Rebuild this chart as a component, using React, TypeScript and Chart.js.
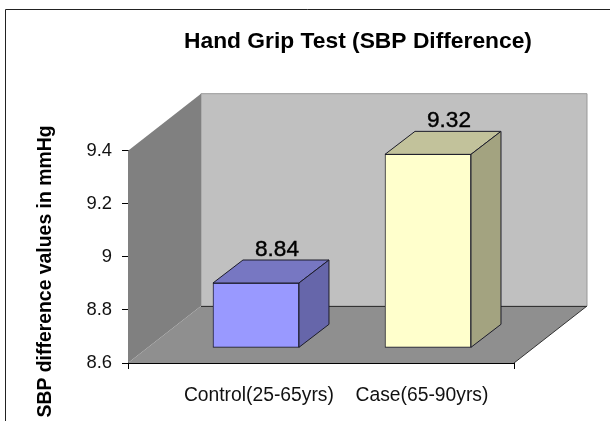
import React, { useEffect, useRef } from "react";
import { Chart, registerables } from "chart.js";

Chart.register(...registerables);

const categories = ["Control(25-65yrs)", "Case(65-90yrs)"];
const barPositions = [0, 1];
const labelPositions = [0.017, 0.965];
const sbpDifference = [8.84, 9.32];
const yTicks = [8.6, 8.8, 9, 9.2, 9.4];
const chartTitle = "Hand Grip Test (SBP Difference)";
const yTitle = "SBP difference values in mmHg";

const FONT = "'Liberation Sans', Arial, sans-serif";
const frontColors = ["#9999FF", "#FFFFCC"];
const topColors = ["#7777C2", "#C2C29B"];
const sideColors = ["#6666AA", "#A3A380"];
const WALL_DX = 73;
const WALL_DY = 57;
const BAR_DX = 30;
const BAR_DY = 23;

function poly(ctx: CanvasRenderingContext2D, pts: number[][], fill: string, stroke?: string) {
  ctx.beginPath();
  pts.forEach((p, i) => (i ? ctx.lineTo(p[0], p[1]) : ctx.moveTo(p[0], p[1])));
  ctx.closePath();
  ctx.fillStyle = fill;
  ctx.fill();
  if (stroke) {
    ctx.strokeStyle = stroke;
    ctx.lineWidth = 1;
    ctx.stroke();
  }
}

const scene3d = {
  id: "scene3d",
  beforeDatasetsDraw(chart: any) {
    const { ctx, chartArea: a } = chart;
    ctx.save();
    // frame of the picture
    ctx.strokeStyle = "#222";
    ctx.lineWidth = 1;
    ctx.beginPath();
    ctx.moveTo(5.5, 421);
    ctx.lineTo(5.5, 9.5);
    ctx.lineTo(610, 9.5);
    ctx.stroke();
    // walls and floor
    poly(ctx, [[a.left + WALL_DX, a.top - WALL_DY], [a.right + WALL_DX, a.top - WALL_DY], [a.right + WALL_DX, a.bottom - WALL_DY], [a.left + WALL_DX, a.bottom - WALL_DY]], "#C0C0C0", "#999");
    poly(ctx, [[a.left, a.top], [a.left + WALL_DX, a.top - WALL_DY], [a.left + WALL_DX, a.bottom - WALL_DY], [a.left, a.bottom]], "#808080");
    poly(ctx, [[a.left, a.bottom], [a.right, a.bottom], [a.right + WALL_DX, a.bottom - WALL_DY], [a.left + WALL_DX, a.bottom - WALL_DY]], "#8F8F8F");
    ctx.strokeStyle = "#333";
    ctx.beginPath();
    ctx.moveTo(a.left + WALL_DX, a.bottom - WALL_DY + 0.5);
    ctx.lineTo(a.right + WALL_DX, a.bottom - WALL_DY + 0.5);
    ctx.moveTo(a.right, a.bottom);
    ctx.lineTo(a.right + WALL_DX, a.bottom - WALL_DY);
    ctx.stroke();
    // end ticks of the category axis
    ctx.strokeStyle = "#000";
    ctx.beginPath();
    ctx.moveTo(a.left + 0.5, a.bottom);
    ctx.lineTo(a.left + 0.5, a.bottom + 6);
    ctx.moveTo(a.right + 0.5, a.bottom);
    ctx.lineTo(a.right + 0.5, a.bottom + 6);
    ctx.stroke();
    ctx.restore();
  },
  afterDatasetsDraw(chart: any) {
    const { ctx } = chart;
    const bars = chart.getDatasetMeta(0).data;
    ctx.save();
    bars.forEach((bar: any, i: number) => {
      const l = bar.x - bar.width / 2;
      const r = bar.x + bar.width / 2;
      const t = bar.y;
      const b = bar.base;
      poly(ctx, [[l, t], [l + BAR_DX, t - BAR_DY], [r + BAR_DX, t - BAR_DY], [r, t]], topColors[i], "#1c1c2a");
      poly(ctx, [[r, t], [r + BAR_DX, t - BAR_DY], [r + BAR_DX, b - BAR_DY], [r, b]], sideColors[i], "#1c1c2a");
      ctx.fillStyle = "#000";
      ctx.strokeStyle = "#000";
      ctx.lineWidth = 0.4;
      ctx.font = `22.6px ${FONT}`;
      ctx.textAlign = "center";
      ctx.textBaseline = "middle";
      ctx.fillText(String(sbpDifference[i]), bar.x + 21, t - 33.5);
      ctx.strokeText(String(sbpDifference[i]), bar.x + 21, t - 33.5);
    });
    ctx.fillStyle = "#000";
    ctx.font = `bold 22.8px ${FONT}`;
    ctx.textAlign = "center";
    ctx.textBaseline = "middle";
    ctx.fillText(chartTitle, 358, 42);
    ctx.translate(46, 271.5);
    ctx.rotate(-Math.PI / 2);
    ctx.font = `bold 19.4px ${FONT}`;
    ctx.fillText(yTitle, 0, 0);
    ctx.restore();
  },
};

export default function App() {
  const ref = useRef<HTMLCanvasElement>(null);
  useEffect(() => {
    document.body.style.margin = "0";
    document.body.style.background = "#fff";
    const chart = new Chart(ref.current as HTMLCanvasElement, {
      type: "bar",
      data: {
        datasets: [
          {
            data: barPositions.map((x, i) => ({ x, y: sbpDifference[i] })),
            backgroundColor: frontColors,
            borderColor: "#1c1c2a",
            borderWidth: 1,
            borderSkipped: false,
            barThickness: 86,
            base: 8.6,
            yAxisID: "yBars",
          },
        ],
      },
      options: {
        responsive: false,
        animation: false,
        layout: { padding: { left: 0, right: 96, top: 150.7, bottom: 0 } },
        plugins: { legend: { display: false }, tooltip: { enabled: false }, title: { display: false } },
        scales: {
          x: {
            type: "linear",
            offset: false,
            min: -0.744,
            max: 1.5,
            grid: { display: false },
            border: { display: true, color: "#000" },
            afterBuildTicks: (s: any) => {
              s.ticks = labelPositions.map((value) => ({ value }));
            },
            afterFit: (s: any) => {
              s.height = 58;
            },
            ticks: {
              autoSkip: false,
              maxRotation: 0,
              padding: 13,
              color: "#111",
              font: { family: FONT, size: 19.3 },
              callback: (_v: any, i: number) => categories[i],
            },
          },
          y: {
            type: "linear",
            min: 8.6,
            max: 9.4,
            grid: { drawOnChartArea: false, tickLength: 6, color: "#000" },
            border: { display: true, color: "#000" },
            afterBuildTicks: (s: any) => {
              s.ticks = yTicks.map((value) => ({ value }));
            },
            afterFit: (s: any) => {
              s.width = 128;
            },
            ticks: {
              padding: 10,
              color: "#111",
              font: { family: FONT, size: 18.4 },
              callback: (v: any) => String(v),
            },
          },
          yBars: { type: "linear", display: false, min: 8.5415, max: 9.3337 },
        },
      } as any,
      plugins: [scene3d],
    });
    return () => chart.destroy();
  }, []);
  return <canvas ref={ref} width={610} height={421} style={{ display: "block", width: 610, height: 421 }} />;
}
